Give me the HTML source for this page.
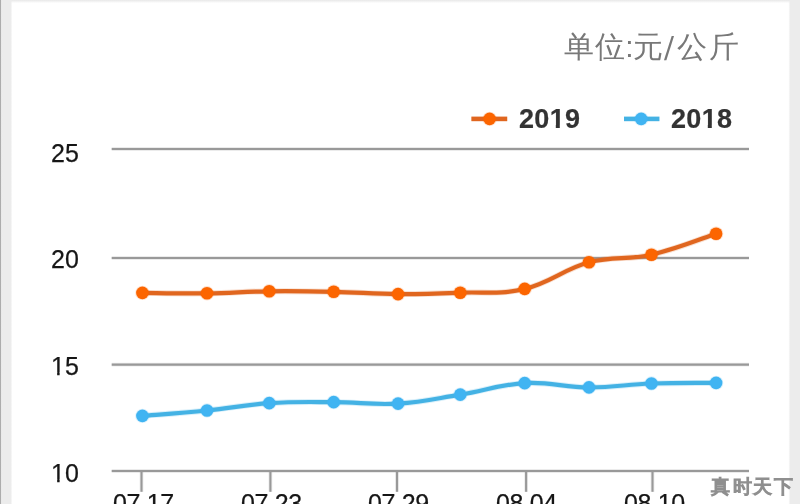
<!DOCTYPE html>
<html>
<head>
<meta charset="utf-8">
<style>
html,body{margin:0;padding:0;}
body{width:800px;height:504px;overflow:hidden;position:relative;background:#ffffff;font-family:"Liberation Sans",sans-serif;}
.bt{position:absolute;left:0;top:0;width:800px;height:4px;background:linear-gradient(to bottom,#e9e9e9 0,#ececec 0.6px,#f3f3f3 1.5px,#fafafa 2.4px,#ffffff 3.2px);}
.bl{position:absolute;left:0;top:0;width:14px;height:504px;background:linear-gradient(to right,#acacac 0,#adadad 0.7px,#e6e6e6 1.3px,#efefef 1.8px,#ececec 2.6px,#ececec 10.8px,rgba(236,236,236,0.45) 11.6px,rgba(236,236,236,0) 12.4px);}
.br{position:absolute;left:786px;top:0;width:14px;height:504px;background:linear-gradient(to right,rgba(236,236,236,0) 0,rgba(236,236,236,0) 2.4px,rgba(236,236,236,0.5) 3.3px,#ececec 4.2px,#ececec 14px);}
.t{position:absolute;white-space:nowrap;line-height:1;will-change:transform;}
.yl{font-size:25px;color:#161616;left:51px;-webkit-text-stroke:0.25px #161616;}
.xl{font-size:25px;color:#161616;top:491.3px;letter-spacing:-0.35px;-webkit-text-stroke:0.25px #161616;}
.lg{font-size:27px;font-weight:bold;color:#333;top:106px;letter-spacing:0.3px;-webkit-text-stroke:0.2px #333;}
.title{font-size:30px;color:#787878;left:0;top:32px;}
.title span{position:absolute;top:0;}
.sl{transform:skewX(-4deg) scaleY(1.1);transform-origin:0 85%;top:3.2px !important;}
.wm{font-size:19px;font-weight:normal;color:#8f8f8f;left:0;top:476.8px;-webkit-text-stroke:1.3px #8f8f8f;}
.wm span{position:absolute;top:0;}
.o{display:inline-block;clip-path:polygon(-1em -1em,2em -1em,2em 0.73em,0.345em 0.73em,0.345em 2em,0.246em 2em,0.246em 0.73em,-1em 0.73em);}
.lg .o{clip-path:polygon(-1em -1em,2em -1em,2em 0.70em,0.376em 0.70em,0.376em 2em,0.228em 2em,0.228em 0.70em,-1em 0.70em);}
svg{position:absolute;left:0;top:0;}
</style>
</head>
<body>
<div class="bt"></div>
<div class="bl"></div>
<div class="br"></div>

<svg width="800" height="504" viewBox="0 0 800 504">
  <g stroke="#999999" stroke-opacity="0.2" stroke-width="3.8" fill="none">
      <line x1="111.7" y1="149" x2="749" y2="149"/>
      <line x1="111.7" y1="258" x2="749" y2="258"/>
      <line x1="111.7" y1="364.6" x2="749" y2="364.6"/>
      <line x1="111.7" y1="471" x2="749" y2="471"/>
      <line x1="141.5" y1="471" x2="141.5" y2="491.8"/>
      <line x1="270.4" y1="471" x2="270.4" y2="491.8"/>
      <line x1="397.0" y1="471" x2="397.0" y2="491.8"/>
      <line x1="526.1" y1="471" x2="526.1" y2="491.8"/>
      <line x1="652.5" y1="471" x2="652.5" y2="491.8"/>
      </g>
  <g stroke="#999999" stroke-width="2.1" fill="none">
      <line x1="111.7" y1="149" x2="749" y2="149"/>
      <line x1="111.7" y1="258" x2="749" y2="258"/>
      <line x1="111.7" y1="364.6" x2="749" y2="364.6"/>
      <line x1="111.7" y1="471" x2="749" y2="471"/>
      <line x1="141.5" y1="471" x2="141.5" y2="491.8"/>
      <line x1="270.4" y1="471" x2="270.4" y2="491.8"/>
      <line x1="397.0" y1="471" x2="397.0" y2="491.8"/>
      <line x1="526.1" y1="471" x2="526.1" y2="491.8"/>
      <line x1="652.5" y1="471" x2="652.5" y2="491.8"/>
      </g>
  <path stroke="#e0661f" stroke-opacity="0.2" stroke-width="6" fill="none" d="M142.40 292.90 C155.32 292.98 181.63 293.62 207.00 293.30 C232.37 292.98 243.91 291.60 269.25 291.30 C294.59 291.00 307.94 291.24 333.70 291.80 C359.46 292.36 372.74 293.92 398.05 294.10 C423.36 294.28 434.92 293.74 460.25 292.70 C485.58 291.66 498.95 294.98 524.70 288.90 C550.45 282.82 563.65 269.14 589.00 262.30 C614.35 255.46 626.03 260.42 651.45 254.70 C676.87 248.98 703.17 237.90 716.10 233.70"/>
  <path stroke="#e0661f" stroke-width="4.2" fill="none" d="M142.40 292.90 C155.32 292.98 181.63 293.62 207.00 293.30 C232.37 292.98 243.91 291.60 269.25 291.30 C294.59 291.00 307.94 291.24 333.70 291.80 C359.46 292.36 372.74 293.92 398.05 294.10 C423.36 294.28 434.92 293.74 460.25 292.70 C485.58 291.66 498.95 294.98 524.70 288.90 C550.45 282.82 563.65 269.14 589.00 262.30 C614.35 255.46 626.03 260.42 651.45 254.70 C676.87 248.98 703.17 237.90 716.10 233.70"/>
  <path stroke="#44b2e4" stroke-opacity="0.2" stroke-width="6" fill="none" d="M142.40 415.90 C155.32 414.82 181.63 413.05 207.00 410.50 C232.37 407.95 243.91 404.82 269.25 403.15 C294.59 401.48 307.94 402.05 333.70 402.15 C359.46 402.25 372.74 405.15 398.05 403.65 C423.36 402.15 434.92 398.75 460.25 394.65 C485.58 390.55 498.95 384.60 524.70 383.15 C550.45 381.70 563.65 387.33 589.00 387.40 C614.35 387.47 626.03 384.40 651.45 383.50 C676.87 382.60 703.17 383.02 716.10 382.90"/>
  <path stroke="#44b2e4" stroke-width="4.2" fill="none" d="M142.40 415.90 C155.32 414.82 181.63 413.05 207.00 410.50 C232.37 407.95 243.91 404.82 269.25 403.15 C294.59 401.48 307.94 402.05 333.70 402.15 C359.46 402.25 372.74 405.15 398.05 403.65 C423.36 402.15 434.92 398.75 460.25 394.65 C485.58 390.55 498.95 384.60 524.70 383.15 C550.45 381.70 563.65 387.33 589.00 387.40 C614.35 387.47 626.03 384.40 651.45 383.50 C676.87 382.60 703.17 383.02 716.10 382.90"/>
  <g fill="#fc6500" stroke="#fc6500" stroke-opacity="0.2" stroke-width="1.8">
      <circle cx="142.40" cy="292.90" r="6.3"/>
      <circle cx="207.00" cy="293.30" r="6.3"/>
      <circle cx="269.25" cy="291.30" r="6.3"/>
      <circle cx="333.70" cy="291.80" r="6.3"/>
      <circle cx="398.05" cy="294.10" r="6.3"/>
      <circle cx="460.25" cy="292.70" r="6.3"/>
      <circle cx="524.70" cy="288.90" r="6.3"/>
      <circle cx="589.00" cy="262.30" r="6.3"/>
      <circle cx="651.45" cy="254.70" r="6.3"/>
      <circle cx="716.10" cy="233.70" r="6.3"/>
      </g>
  <g fill="#40b4f2" stroke="#40b4f2" stroke-opacity="0.2" stroke-width="1.8">
      <circle cx="142.40" cy="415.90" r="6.3"/>
      <circle cx="207.00" cy="410.50" r="6.3"/>
      <circle cx="269.25" cy="403.15" r="6.3"/>
      <circle cx="333.70" cy="402.15" r="6.3"/>
      <circle cx="398.05" cy="403.65" r="6.3"/>
      <circle cx="460.25" cy="394.65" r="6.3"/>
      <circle cx="524.70" cy="383.15" r="6.3"/>
      <circle cx="589.00" cy="387.40" r="6.3"/>
      <circle cx="651.45" cy="383.50" r="6.3"/>
      <circle cx="716.10" cy="382.90" r="6.3"/>
      </g>
  <!-- legend -->
  <line x1="471.4" y1="118.9" x2="507.2" y2="118.9" stroke="#e0661f" stroke-opacity="0.2" stroke-width="6"/>
  <line x1="471.4" y1="118.9" x2="507.2" y2="118.9" stroke="#e0661f" stroke-width="4.2"/>
  <circle cx="489.6" cy="118.9" r="6.3" fill="#fc6500" stroke="#fc6500" stroke-opacity="0.2" stroke-width="1.8"/>
  <line x1="624" y1="118.9" x2="659.4" y2="118.9" stroke="#44b2e4" stroke-opacity="0.2" stroke-width="6"/>
  <line x1="624" y1="118.9" x2="659.4" y2="118.9" stroke="#44b2e4" stroke-width="4.2"/>
  <circle cx="641.2" cy="118.9" r="6.3" fill="#40b4f2" stroke="#40b4f2" stroke-opacity="0.2" stroke-width="1.8"/>
</svg>

<div class="t title"><span style="left:564px">单</span><span style="left:594.5px">位</span><span style="left:625.2px">:</span><span style="left:632.6px">元</span><span class="sl" style="left:664.4px">/</span><span style="left:677.3px">公</span><span style="left:708.5px">斤</span></div>
<div class="t lg" style="left:519px">20<span class="o">1</span>9</div>
<div class="t lg" style="left:671px">20<span class="o">1</span>8</div>

<div class="t yl" style="top:141px">25</div>
<div class="t yl" style="top:247.4px">20</div>
<div class="t yl" style="top:353.7px"><span class="o">1</span>5</div>
<div class="t yl" style="top:460.5px"><span class="o">1</span>0</div>

<div class="t xl" style="left:113px">07.<span class="o">1</span>7</div>
<div class="t xl" style="left:241px">07.23</div>
<div class="t xl" style="left:368px">07.29</div>
<div class="t xl" style="left:496px">08.04</div>
<div class="t xl" style="left:624px">08.<span class="o">1</span>0</div>

<div class="t wm"><span style="left:711px">真</span><span style="left:732.5px">时</span><span style="left:753px">天</span><span style="left:774px">下</span></div>
</body>
</html>
